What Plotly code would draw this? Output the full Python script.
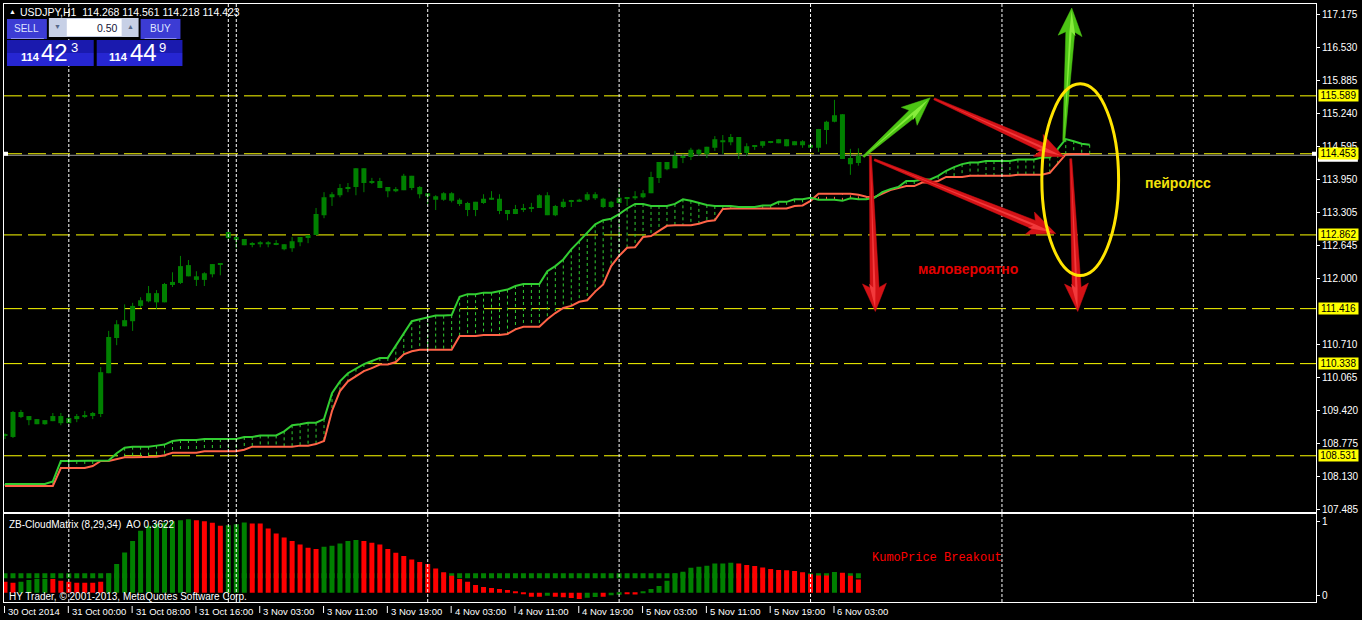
import plotly.graph_objects as go

# ---------------- data ----------------
# hourly USDJPY candles, bar index 0 = 30 Oct 2014 16:00
open_ = [108.92,108.90,109.39,109.31,109.25,109.15,109.21,109.31,109.17,109.25,
         109.29,109.31,109.35,110.15,110.84,111.07,111.17,111.47,111.56,111.72,
         111.54,111.88,111.92,112.27,112.05,111.98,112.09,112.29,112.80,112.82,
         112.78,112.68,112.68,112.72,112.68,112.68,112.60,112.72,112.80,112.86,
         113.25,113.60,113.64,113.78,113.80,114.17,113.88,113.92,113.80,113.72,
         113.74,114.02,113.80,113.68,113.62,113.55,113.68,113.55,113.49,113.35,
         113.49,113.55,113.57,113.35,113.27,113.37,113.37,113.39,113.64,113.25,
         113.41,113.51,113.51,113.55,113.66,113.57,113.41,113.49,113.58,113.58,
         113.60,113.68,113.98,114.29,114.17,114.41,114.39,114.53,114.45,114.57,
         114.72,114.68,114.78,114.47,114.60,114.61,114.69,114.66,114.74,114.62,
         114.70,114.63,114.57,114.92,115.08,115.23,114.37,114.27]
high = [108.97,109.41,109.43,109.31,109.25,109.23,109.37,109.37,109.33,109.35,
        109.41,109.39,110.27,110.98,111.19,111.50,111.53,111.64,111.86,111.78,
        111.92,112.13,112.45,112.37,112.15,112.13,112.29,112.31,112.92,112.88,
        112.78,112.72,112.74,112.74,112.76,112.68,112.82,112.82,112.86,113.39,
        113.70,113.70,113.86,113.88,114.17,114.17,113.98,113.98,113.80,113.80,
        114.06,114.02,113.82,113.68,113.64,113.70,113.70,113.58,113.51,113.51,
        113.66,113.72,113.66,113.35,113.45,113.47,113.49,113.66,113.70,113.45,
        113.57,113.55,113.57,113.70,113.70,113.59,113.53,113.78,113.60,113.72,
        113.74,114.10,114.29,114.29,114.51,114.45,114.57,114.55,114.59,114.80,
        114.82,114.84,114.78,114.66,114.62,114.70,114.70,114.74,114.74,114.70,
        114.72,114.66,114.94,115.10,115.51,115.23,114.55,114.56]
low = [108.86,108.88,109.27,109.13,109.15,109.14,109.21,109.13,109.17,109.19,
       109.27,109.25,109.29,110.15,110.70,111.07,110.98,111.43,111.54,111.41,
       111.54,111.84,111.90,112.05,111.86,111.86,112.03,112.07,112.76,112.60,
       112.66,112.62,112.62,112.62,112.66,112.56,112.53,112.64,112.70,112.86,
       113.19,113.43,113.60,113.70,113.64,113.70,113.86,113.78,113.60,113.70,
       113.74,113.74,113.58,113.47,113.35,113.53,113.50,113.43,113.23,113.23,
       113.47,113.55,113.27,113.15,113.27,113.31,113.31,113.39,113.25,113.23,
       113.39,113.41,113.51,113.53,113.55,113.39,113.39,113.47,113.43,113.55,
       113.58,113.68,113.88,114.13,114.17,114.27,114.33,114.41,114.37,114.51,
       114.45,114.62,114.35,114.41,114.53,114.57,114.66,114.66,114.60,114.62,
       114.57,114.51,114.49,114.64,115.07,114.35,114.04,114.22]
close = [108.92,109.39,109.29,109.23,109.15,109.23,109.31,109.17,109.27,109.31,
         109.33,109.37,110.17,110.86,111.11,111.19,111.47,111.58,111.72,111.54,
         111.90,111.94,112.25,112.05,111.98,112.11,112.29,112.29,112.92,112.76,
         112.66,112.68,112.72,112.68,112.70,112.58,112.74,112.82,112.86,113.27,
         113.60,113.66,113.78,113.78,114.17,113.88,113.92,113.78,113.72,113.76,
         114.02,113.78,113.66,113.62,113.55,113.68,113.53,113.47,113.35,113.51,
         113.57,113.59,113.33,113.27,113.37,113.39,113.41,113.64,113.25,113.43,
         113.51,113.51,113.55,113.66,113.58,113.41,113.51,113.59,113.60,113.62,
         113.68,114.00,114.29,114.15,114.41,114.37,114.53,114.45,114.59,114.74,
         114.68,114.78,114.47,114.60,114.62,114.70,114.68,114.74,114.60,114.70,
         114.62,114.57,114.94,115.08,115.21,114.35,114.25,114.42]

# cloud spans (already shifted 29 bars forward), index 0..136
span_a = [107.98,107.98,107.98,107.98,107.98,107.98,108.03,108.43,108.43,108.43,
          108.43,108.43,108.44,108.44,108.58,108.69,108.71,108.71,108.71,108.73,
          108.75,108.82,108.84,108.84,108.84,108.86,108.86,108.86,108.86,108.86,
          108.90,108.90,108.93,108.93,108.93,109.01,109.13,109.15,109.18,109.18,
          109.25,109.76,109.99,110.15,110.24,110.33,110.39,110.45,110.45,110.69,
          110.94,111.17,111.21,111.25,111.28,111.28,111.29,111.65,111.70,111.70,
          111.73,111.73,111.76,111.79,111.86,111.90,111.90,111.90,112.15,112.25,
          112.38,112.58,112.74,112.90,113.07,113.15,113.18,113.27,113.38,113.47,
          113.47,113.43,113.43,113.43,113.47,113.56,113.53,113.49,113.45,113.43,
          113.43,113.43,113.41,113.41,113.41,113.44,113.44,113.51,113.51,113.56,
          113.56,113.59,113.55,113.55,113.55,113.53,113.58,113.56,113.56,113.59,
          113.70,113.76,113.80,113.92,113.92,113.95,113.95,114.02,114.12,114.19,
          114.25,114.28,114.28,114.31,114.31,114.31,114.31,114.34,114.34,114.34,
          114.38,114.38,114.55,114.74,114.70,114.65,114.63]
span_b = [107.94,107.94,107.94,107.94,107.94,107.94,107.94,108.29,108.29,108.29,
          108.29,108.33,108.43,108.43,108.47,108.50,108.50,108.50,108.51,108.51,
          108.54,108.59,108.59,108.59,108.59,108.62,108.62,108.62,108.62,108.62,
          108.65,108.71,108.71,108.71,108.71,108.71,108.71,108.73,108.73,108.76,
          108.82,109.41,109.80,109.99,110.09,110.19,110.25,110.32,110.32,110.37,
          110.52,110.58,110.61,110.61,110.61,110.61,110.61,110.88,110.88,110.88,
          110.90,110.90,110.90,110.92,111.01,111.06,111.06,111.06,111.21,111.33,
          111.43,111.47,111.55,111.58,111.75,111.89,112.25,112.45,112.61,112.62,
          112.82,112.84,112.94,113.04,113.05,113.05,113.05,113.08,113.13,113.15,
          113.37,113.38,113.38,113.38,113.38,113.38,113.38,113.38,113.38,113.43,
          113.44,113.53,113.67,113.67,113.67,113.67,113.67,113.65,113.61,113.60,
          113.67,113.74,113.78,113.82,113.82,113.89,113.89,113.92,114.00,114.00,
          114.00,114.02,114.02,114.02,114.02,114.02,114.02,114.04,114.04,114.04,
          114.04,114.08,114.25,114.44,114.45,114.45,114.45]

# ZB-CloudMatrix histogram (panel units: "1" / "0" labels)
ao_value = [0.190,0.176,0.190,0.212,0.226,0.226,0.226,0.203,0.190,0.176,
            0.176,0.176,0.190,0.302,0.428,0.586,0.739,0.879,0.946,0.978,
            0.987,1.009,1.023,1.036,1.023,1.009,0.987,0.946,0.955,0.969,
            0.991,0.978,0.978,0.910,0.843,0.789,0.739,0.694,0.649,0.631,
            0.662,0.676,0.708,0.739,0.753,0.739,0.717,0.694,0.631,0.581,
            0.536,0.491,0.455,0.428,0.370,0.316,0.271,0.226,0.190,0.144,
            0.117,0.104,0.090,0.077,0.054,0.032,-0.013,-0.013,0.000,-0.013,
            -0.022,-0.031,-0.045,-0.027,-0.018,-0.013,0.005,0.014,0.023,0.018,
            0.054,0.090,0.131,0.203,0.302,0.325,0.379,0.392,0.406,0.437,
            0.437,0.446,0.437,0.415,0.401,0.383,0.361,0.347,0.343,0.334,
            0.316,0.289,0.275,0.275,0.320,0.311,0.271,0.221]
ao_dir = list("RR" "GGGG" "RRRRRRR" "GGGGGGGGGGG" "RRRR" "GGG" "RRRRRRRRR" "GGGGG"
              "RRRRRRRRRRRRRRRRRRRRRRR" "G" "RRRR" "GG" "R" "GG" "RR"
              "GGGGGGGGGGGG" "RRRRRRRRRRRR" "G" "RRR")
ao_base = 0.04
band_low, band_high = 0.235, 0.305

tick_idx = [0, 8, 16, 24, 32, 40, 48, 56, 64, 72, 80, 88, 96, 104]
tick_txt = ["30 Oct 2014", "31 Oct 00:00", "31 Oct 08:00", "31 Oct 16:00",
            "3 Nov 03:00", "3 Nov 11:00", "3 Nov 19:00", "4 Nov 03:00",
            "4 Nov 11:00", "4 Nov 19:00", "5 Nov 03:00", "5 Nov 11:00",
            "5 Nov 19:00", "6 Nov 03:00"]
price_ticks = [117.175, 116.530, 115.885, 115.240, 114.595, 113.950, 113.305,
               112.645, 112.000, 110.710, 110.065, 109.420, 108.775,
               108.130, 107.485]
price_tick_txt = ["117.175", "116.530", "115.885", "115.240", "114.595", "113.950",
                  "113.305", "112.645", "112.000", "110.710", "110.065",
                  "109.420", "108.775", "108.130", "107.485"]
level_prices = [115.589, 114.453, 112.862, 111.416, 110.338, 108.531]
level_txt = ["115.589", "114.453", "112.862", "111.416", "110.338", "108.531"]
separators = [8, 28, 29, 53, 77, 101, 125, 149]
bid = 114.423

# ---------------- layout geometry ----------------
W, H = 1362, 620
PX0, PX1, PY0, PY1 = 3, 1319, 3, 602
XR = [-0.125, 164.375]
YR = [107.4315, 117.390]
MAIN_DOM = [0.15075, 1.0]
IND_DOM = [0.0, 0.1469]
IR = [-0.0851, 1.1041]
FONT = "Liberation Sans, Arial, sans-serif"

def fx(px):
    return (px - PX0) / (PX1 - PX0)

def fy(py):
    return (PY1 - py) / (PY1 - PY0)

bars = list(range(len(open_)))
cloud_x = list(range(len(span_a)))

fig = go.Figure()

# cloud hatching
for col, cond in (("#32cd32", True), ("#ff6347", False)):
    xs, ys = [], []
    for k in cloud_x:
        if (span_a[k] >= span_b[k]) == cond:
            xs += [k, k, None]
            ys += [span_a[k], span_b[k], None]
    fig.add_trace(go.Scatter(x=xs, y=ys, mode="lines", xaxis="x", yaxis="y",
                             line=dict(color=col, width=1, dash="3px,3px"),
                             hoverinfo="skip"))
fig.add_trace(go.Scatter(x=cloud_x, y=span_b, mode="lines", xaxis="x", yaxis="y",
                         line=dict(color="#ff6347", width=2), hoverinfo="skip"))
fig.add_trace(go.Scatter(x=cloud_x, y=span_a, mode="lines", xaxis="x", yaxis="y",
                         line=dict(color="#32cd32", width=2), hoverinfo="skip"))

# candles
wx, wy = [], []
for k in bars:
    wx += [k, k, None]
    wy += [low[k], high[k], None]
fig.add_trace(go.Scatter(x=wx, y=wy, mode="lines", xaxis="x", yaxis="y",
                         line=dict(color="#008000", width=1), hoverinfo="skip"))
fig.add_trace(go.Bar(x=bars, base=[min(o, c) for o, c in zip(open_, close)],
                     y=[max(abs(c - o), 0.02) for o, c in zip(open_, close)],
                     width=0.625, xaxis="x", yaxis="y",
                     marker=dict(color="#008000", line=dict(width=0)), hoverinfo="skip"))

# indicator
fig.add_trace(go.Bar(x=bars, base=[band_low] * len(bars), y=[band_high - band_low] * len(bars),
                     width=0.625, xaxis="x2", yaxis="y2",
                     marker=dict(color="#008000", line=dict(width=0)), hoverinfo="skip"))
fig.add_trace(go.Bar(x=bars, base=[ao_base] * len(bars), y=[v - ao_base for v in ao_value],
                     width=0.625, xaxis="x2", yaxis="y2",
                     marker=dict(color=["#008000" if d == "G" else "#ff0000" for d in ao_dir],
                                 line=dict(width=0)), hoverinfo="skip"))

shapes = []
annotations = []

def rect(x0, y0, x1, y1, color):
    shapes.append(dict(type="rect", xref="paper", yref="paper", x0=fx(x0), x1=fx(x1),
                       y0=fy(y1), y1=fy(y0), fillcolor=color, line=dict(width=0),
                       layer="above"))

def text(px, py, s, size, color, anchor="center", family=FONT):
    annotations.append(dict(xref="paper", yref="paper", x=fx(px), y=fy(py), text=s,
                            showarrow=False, xanchor=anchor, yanchor="middle",
                            font=dict(size=size, color=color, family=family)))

# horizontal levels + bid line
for p in level_prices:
    shapes.append(dict(type="line", xref="paper", x0=0, x1=1, yref="y", y0=p, y1=p,
                       line=dict(color="#ffff00", width=1, dash="18px,6px"), layer="below"))
shapes.append(dict(type="line", xref="paper", x0=0, x1=1, yref="y", y0=bid, y1=bid,
                   line=dict(color="#9a9a9a", width=1), layer="below"))
# period separators
for s in separators:
    shapes.append(dict(type="line", xref="x", x0=s, x1=s, yref="paper", y0=0, y1=1,
                       line=dict(color="#ffffff", width=1, dash="3px,2px"), layer="above"))
# bottom tick marks
for t, lab in zip(tick_idx, tick_txt):
    shapes.append(dict(type="line", xref="x", x0=t - 0.06, x1=t - 0.06, yref="paper",
                       y0=fy(613), y1=fy(606), line=dict(color="#ffffff", width=1)))
    annotations.append(dict(xref="x", yref="paper", x=t, y=fy(604), xanchor="left",
                            yanchor="top", xshift=1, showarrow=False, text=lab,
                            font=dict(size=9.5, color="#ffffff", family=FONT)))

# arrows (drawn in pixels)
def arrow(tail, tip, color, light, head_len=24, head_w=12, w0=1.0, w1=4.5):
    (x0, y0), (x1, y1) = tail, tip
    L = ((x1 - x0) ** 2 + (y1 - y0) ** 2) ** 0.5
    dx, dy = (x1 - x0) / L, (y1 - y0) / L
    nx, ny = -dy, dx
    bx, by = x1 - dx * head_len, y1 - dy * head_len
    wx_, wy_ = bx - dx * 4, by - dy * 4
    pts = [(x0 + nx * w0, y0 + ny * w0), (bx + nx * w1, by + ny * w1),
           (wx_ + nx * head_w, wy_ + ny * head_w), (x1, y1),
           (wx_ - nx * head_w, wy_ - ny * head_w), (bx - nx * w1, by - ny * w1),
           (x0 - nx * w0, y0 - ny * w0)]
    path = "M " + " L ".join("%.5f,%.5f" % (fx(a), fy(b)) for a, b in pts) + " Z"
    shapes.append(dict(type="path", xref="paper", yref="paper", path=path,
                       fillcolor=color, line=dict(color=color, width=0.5), layer="above"))
    # light highlight along the shaft and head (3D look)
    hl = [(x0, y0), (bx + nx * w1 * 0.3, by + ny * w1 * 0.3),
          (wx_ + nx * head_w * 0.45, wy_ + ny * head_w * 0.45), (x1 - dx * 3, y1 - dy * 3),
          (bx - nx * w1 * 0.2, by - ny * w1 * 0.2)]
    path2 = "M " + " L ".join("%.5f,%.5f" % (fx(a), fy(b)) for a, b in hl) + " Z"
    shapes.append(dict(type="path", xref="paper", yref="paper", path=path2,
                       fillcolor=light, line=dict(width=0), layer="above"))

GREEN_A, GREEN_L = "#4cc414", "#86ec3c"
RED_A, RED_L = "#d41216", "#f2393b"
arrow((865, 156), (932, 97), GREEN_A, GREEN_L)
arrow((936, 98), (1066, 156), RED_A, RED_L)
arrow((876, 159), (1058, 233), RED_A, RED_L)
arrow((872, 155), (877, 311), RED_A, RED_L)
arrow((1066, 140), (1074, 7), GREEN_A, GREEN_L)
arrow((1073, 158), (1080, 311), RED_A, RED_L)

shapes.append(dict(type="circle", xref="paper", yref="paper", x0=fx(1044), x1=fx(1121),
                   y0=fy(275), y1=fy(83), line=dict(color="#ffe400", width=3), layer="above"))

# price-level labels on the axis
rect(1321, 157, 1361, 161, "#ffffff")
rect(1315, 151, 1319, 155, "#ffffff")
rect(3, 151, 7, 155, "#ffffff")
for p, t in zip(level_prices, level_txt):
    annotations.append(dict(xref="paper", yref="y", x=fx(1321), y=p, xanchor="left",
                            yanchor="middle", text=t, showarrow=False, width=39, height=11,
                            bgcolor="#ffff00", borderpad=0,
                            font=dict(size=10, color="#000000", family=FONT)))

# chart texts
text(1181, 182, "<b>пейролсс</b>", 14, "#f2e20a")
text(970, 268, "<b>маловероятно</b>", 14, "#e60000")
text(872, 558, "KumoPrice Breakout", 12, "#ff0000", anchor="left",
     family="Liberation Mono, Courier New, monospace")
text(6, 524, "ZB-CloudMatrix (8,29,34)  AO 0.3622", 10, "#ffffff", anchor="left")
text(6, 596, "HY Trader, © 2001-2013, MetaQuotes Software Corp.", 10, "#ffffff", anchor="left")
text(6, 11, "▲", 7, "#ffffff", anchor="left")
text(17, 11, "USDJPY,H1  114.268 114.561 114.218 114.423", 10.5, "#ffffff", anchor="left")

# one-click trading panel
rect(6, 18, 46, 38, "#3c3cd4")
rect(10, 37, 43, 38, "#8a8af2")
text(26, 27.5, "SELL", 10, "#dfe4ff")
rect(48, 17, 138, 36, "#c7d0e6")
rect(66, 18, 121, 35, "#ffffff")
text(57, 26, "▼", 7, "#56688a")
text(130, 26, "▲", 7, "#56688a")
text(119, 27, "0.50", 10.5, "#141438", anchor="right")
rect(140, 18, 180, 38, "#3c3cd4")
rect(144, 37, 176, 38, "#8a8af2")
text(160, 27.5, "BUY", 10, "#dfe4ff")
for x0, x1 in ((6, 93), (96, 182)):
    rect(x0, 39, x1, 52, "#1a1aae")
    rect(x0, 52, x1, 65, "#2626d2")
text(30, 56, "<b>114</b>", 11, "#ffffff")
text(54, 52, "42", 24, "#ffffff")
text(74, 47, "3", 13, "#ffffff")
text(118, 56, "<b>114</b>", 11, "#ffffff")
text(143, 52, "44", 24, "#ffffff")
text(162, 47, "9", 13, "#ffffff")

axis_common = dict(showgrid=False, zeroline=False, showline=True, mirror=True,
                   linecolor="#ffffff", linewidth=1)
fig.update_layout(
    width=W, height=H,
    margin=dict(l=PX0, r=W - PX1, t=PY0, b=H - PY1, pad=0),
    paper_bgcolor="#000000", plot_bgcolor="#000000",
    showlegend=False, hovermode=False, barmode="overlay",
    xaxis=dict(domain=[0, 1], anchor="y", range=XR, showticklabels=False, ticks="",
               **axis_common),
    xaxis2=dict(domain=[0, 1], anchor="y2", range=XR, showticklabels=False, ticks="",
                matches="x", **axis_common),
    yaxis=dict(domain=MAIN_DOM, anchor="x", range=YR, side="right",
               tickvals=price_ticks, ticktext=price_tick_txt, ticks="outside",
               ticklen=3, tickcolor="#ffffff",
               tickfont=dict(size=10, color="#ffffff", family=FONT), **axis_common),
    yaxis2=dict(domain=IND_DOM, anchor="x2", range=IR, side="right",
                tickvals=[0, 1], ticktext=["0", "1"], ticks="outside", ticklen=3,
                tickcolor="#ffffff",
                tickfont=dict(size=10, color="#ffffff", family=FONT), **axis_common),
    shapes=shapes, annotations=annotations,
)
fig.write_html("out.html", config={"displayModeBar": False})

# remove the browser's default page margin so the figure sits at (0, 0)
with open("out.html", "r", encoding="utf-8") as fh:
    page = fh.read()
page = page.replace("<head>", "<head><style>html,body{margin:0;padding:0;"
                    "background:#000000;overflow:hidden}</style>", 1)
with open("out.html", "w", encoding="utf-8") as fh:
    fh.write(page)
